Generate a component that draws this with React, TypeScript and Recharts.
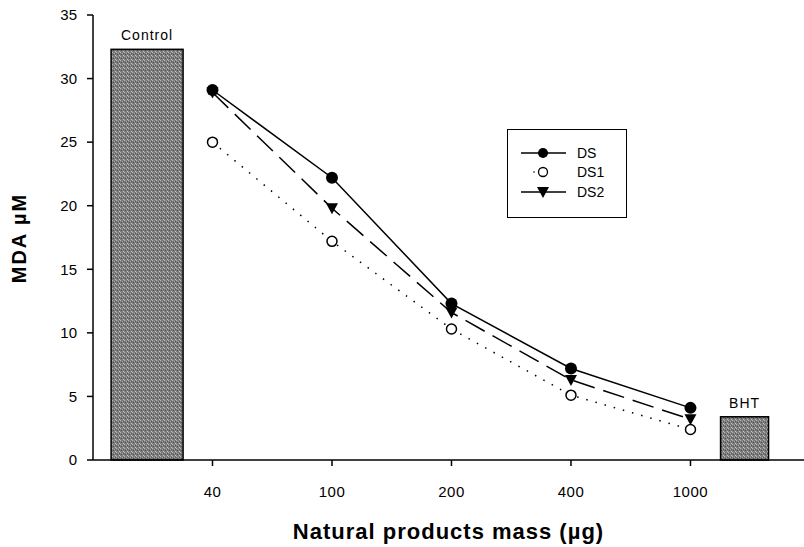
import { ComposedChart, Bar, Line, XAxis, YAxis, LabelList, Label } from 'recharts';

const FONT = "Arial, 'Liberation Sans', sans-serif";

// categories along the x axis and where they sit on the numeric axis
const categories = ['Control', '40', '100', '200', '400', '1000', 'BHT'];
const xPositions = [0.45, 1, 2, 3, 4, 5, 5.45];

// reference bars (Control, BHT)
const barValues = [32.3, null, null, null, null, null, 3.4];

// MDA µM for each extract
const dsValues = [null, 29.1, 22.2, 12.3, 7.2, 4.1, null];
const ds1Values = [null, 25.0, 17.2, 10.3, 5.1, 2.4, null];
const ds2Values = [null, 28.9, 19.8, 11.6, 6.3, 3.2, null];

const yTicks = [0, 5, 10, 15, 20, 25, 30, 35];
const xTicks = [1, 2, 3, 4, 5];

const barWidths: Record<string, number> = { Control: 72, BHT: 48 };

const data = categories.map((name, i) => ({
  name,
  x: xPositions[i],
  bar: barValues[i],
  barLabel: barValues[i] != null ? name : null,
  DS: dsValues[i],
  DS1: ds1Values[i],
  DS2: ds2Values[i],
}));

const tickLabel = (v: number) => {
  const i = xPositions.indexOf(v);
  return i >= 0 ? categories[i] : '';
};

const BarShape = (props: any) => {
  const { x, y, width, height, payload } = props;
  if (!height || height <= 0) return null;
  const w = barWidths[payload.name] ?? width;
  const cx = x + width / 2;
  return (
    <rect x={cx - w / 2} y={y} width={w} height={height} fill="url(#grain)" stroke="#000" strokeWidth={1.5} />
  );
};

const Triangle = (props: any) => {
  const { cx, cy } = props;
  if (cx == null || cy == null) return null;
  return <path d={`M${cx - 6},${cy - 5} L${cx + 6},${cy - 5} L${cx},${cy + 6} Z`} fill="#000" />;
};

const legendItems = [
  { name: 'DS', kind: 'ds' },
  { name: 'DS1', kind: 'ds1' },
  { name: 'DS2', kind: 'ds2' },
];

const LegendBox = () => (
  <div
    style={{
      position: 'absolute',
      left: 507,
      top: 129,
      width: 120,
      height: 89,
      border: '1.5px solid #000',
      background: '#fff',
      boxSizing: 'border-box',
      paddingTop: 13,
      fontFamily: FONT,
      fontSize: 14,
    }}
  >
    {legendItems.map((it) => (
      <div key={it.name} style={{ display: 'flex', alignItems: 'center', height: 19.5 }}>
        <svg width={69} height={16} style={{ display: 'block' }}>
          {it.kind === 'ds' && (
            <>
              <line x1={13} y1={8} x2={58} y2={8} stroke="#000" strokeWidth={1.5} />
              <circle cx={35} cy={8} r={5} fill="#000" />
            </>
          )}
          {it.kind === 'ds1' && (
            <>
              <circle cx={26} cy={8} r={0.8} fill="#000" />
              <circle cx={35} cy={8} r={4.5} fill="#fff" stroke="#000" strokeWidth={1.3} />
            </>
          )}
          {it.kind === 'ds2' && (
            <>
              <line x1={13} y1={8} x2={58} y2={8} stroke="#000" strokeWidth={1.5} />
              <Triangle cx={35} cy={8} />
            </>
          )}
        </svg>
        <span>{it.name}</span>
      </div>
    ))}
  </div>
);

export default function App() {
  return (
    <div style={{ position: 'absolute', left: 0, top: 0, width: 804, height: 547, background: '#fff' }}>
      <ComposedChart width={804} height={547} data={data} margin={{ top: 15, right: 0, bottom: 0, left: 0 }}>
        <defs>
          <pattern id="grain" width="4" height="4" patternUnits="userSpaceOnUse">
            <rect width="4" height="4" fill="#7c7c7c" />
            <rect x="0" y="0" width="1" height="1" fill="#b8b8b8" />
            <rect x="2" y="1" width="1" height="1" fill="#a6a6a6" />
            <rect x="1" y="2" width="1" height="1" fill="#4e4e4e" />
            <rect x="3" y="3" width="1" height="1" fill="#c2c2c2" />
            <rect x="3" y="1" width="1" height="1" fill="#555" />
          </pattern>
        </defs>
        <XAxis
          type="number"
          dataKey="x"
          domain={[0, 5.95]}
          allowDataOverflow
          ticks={xTicks}
          tickFormatter={tickLabel}
          height={87}
          tickSize={6}
          tickMargin={20}
          stroke="#000"
          strokeWidth={1.5}
          tick={{ fill: '#000', fontSize: 15, fontFamily: FONT, letterSpacing: 0.5 }}
        >
          <Label
            value="Natural products mass (µg)"
            position="insideBottom"
            offset={8}
            style={{ fontSize: 22, fontWeight: 'bold', fontFamily: FONT, fill: '#000', letterSpacing: 1 }}
          />
        </XAxis>
        <YAxis
          type="number"
          domain={[0, 35]}
          ticks={yTicks}
          width={93}
          tickSize={6}
          tickMargin={10}
          stroke="#000"
          strokeWidth={1.5}
          tick={{ fill: '#000', fontSize: 15, fontFamily: FONT }}
        >
          <Label
            content={() => (
              <text
                x={19}
                y={238}
                transform="rotate(-90, 19, 238)"
                textAnchor="middle"
                dominantBaseline="central"
                style={{ fontSize: 20, fontWeight: 'bold', fontFamily: FONT, fill: '#000', letterSpacing: 2 }}
              >
                MDA µM
              </text>
            )}
          />
        </YAxis>
        <Bar dataKey="bar" barSize={72} shape={<BarShape />} isAnimationActive={false}>
          <LabelList
            dataKey="barLabel"
            position="top"
            offset={9}
            style={{ fontSize: 14, fontFamily: FONT, fill: '#000', letterSpacing: 1 }}
          />
        </Bar>
        <Line
          dataKey="DS1"
          stroke="#000"
          strokeWidth={1.5}
          strokeDasharray="1.5 8"
          dot={{ r: 5, fill: '#fff', stroke: '#000', strokeWidth: 1.5, strokeDasharray: '' }}
          isAnimationActive={false}
        />
        <Line
          dataKey="DS2"
          stroke="#000"
          strokeWidth={1.5}
          strokeDasharray="22 9"
          dot={<Triangle />}
          isAnimationActive={false}
        />
        <Line
          dataKey="DS"
          stroke="#000"
          strokeWidth={1.5}
          dot={{ r: 6, fill: '#000', stroke: '#000', strokeWidth: 0 }}
          isAnimationActive={false}
        />
      </ComposedChart>
      <LegendBox />
    </div>
  );
}
